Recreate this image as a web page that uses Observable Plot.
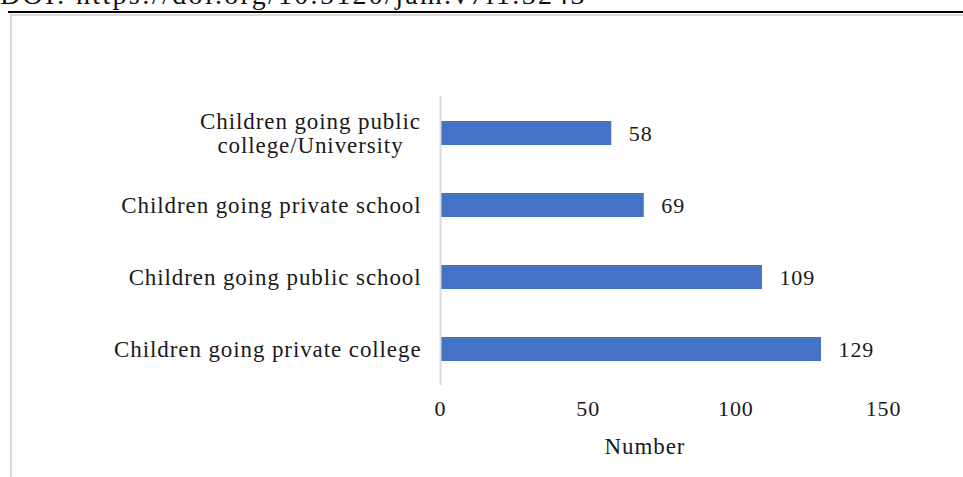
<!DOCTYPE html>
<html>
<head>
<meta charset="utf-8">
<script src="https://cdn.jsdelivr.net/npm/d3@7"></script>
<script src="https://cdn.jsdelivr.net/npm/@observablehq/plot@0.6"></script>
<style>
  html, body { margin: 0; padding: 0; background: #fff; }
  #wrap { position: relative; width: 963px; height: 477px; overflow: hidden; background: #fff; }
  #doi { position: absolute; left: 0; top: -19px; font: 28px "Liberation Serif", serif; letter-spacing: 2.3px; color: #111; white-space: nowrap; line-height: 28px; }
  #rule { position: absolute; left: 8px; top: 11px; width: 955px; height: 2px; background: #000; }
  #boxTop { position: absolute; left: 10px; top: 14px; width: 953px; height: 2px; background: #d9d9d9; }
  #boxLeft { position: absolute; left: 10px; top: 14px; width: 2px; height: 463px; background: #d9d9d9; }
  #chart { position: absolute; left: 0; top: 0; }
</style>
</head>
<body>
<div id="wrap">
  <div id="doi">DOI: https://doi.org/10.5120/jam.v7i1.3243</div>
  <div id="rule"></div>
  <div id="boxTop"></div>
  <div id="boxLeft"></div>
  <div id="chart"></div>
</div>
<script>
const categories = [
  "Children going public\ncollege/University",
  "Children going private school",
  "Children going public school",
  "Children going private college"
];
const values = [58, 69, 109, 129];
const xTicks = [0, 50, 100, 150];
const xLabel = "Number";

const data = categories.map((c, i) => ({category: c, value: values[i]}));
const font = "Liberation Serif";
const ink = "#1a1a1a";

const chart = Plot.plot({
  width: 963,
  height: 477,
  marginLeft: 440,
  marginRight: 80,
  marginTop: 96,
  marginBottom: 92,
  style: {fontFamily: font, fontSize: "22px", color: ink, background: "transparent", letterSpacing: "0.9px"},
  x: {domain: [0, 150], ticks: xTicks, axis: null},
  y: {domain: categories, paddingInner: 0.67, paddingOuter: 0.335, axis: null},
  marks: [
    Plot.barX(data, {x: "value", y: "category", fill: "#4472C4"}),
    Plot.ruleX([0], {stroke: "#d9d9d9", strokeWidth: 2}),
    Plot.text(data, {x: "value", y: "category", text: d => String(d.value), textAnchor: "start", dx: 17, fill: ink, fontSize: 22}),
    Plot.text(data.filter(d => !d.category.includes("\n")), {x: 0, y: "category", text: "category", textAnchor: "end", dx: -19, fill: ink, fontSize: 23}),
    Plot.text(data.filter(d => d.category.includes("\n")), {x: 0, y: "category", text: "category", textAnchor: "middle", dx: -130, lineHeight: 1.05, fill: ink, fontSize: 23}),
    Plot.text(xTicks, {x: d => d, frameAnchor: "bottom", dy: 30, text: d => String(d), fill: ink, fontSize: 22}),
    Plot.text([xLabel], {frameAnchor: "bottom", dy: 68, dx: -17, text: d => d, fill: ink, fontSize: 23})
  ]
});
document.getElementById("chart").appendChild(chart);
</script>
</body>
</html>
